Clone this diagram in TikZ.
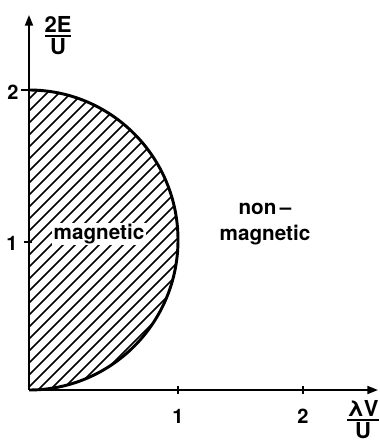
\documentclass[tikz,border=0pt]{standalone}
\usepackage{amsmath}
\usepackage{fontspec}
\setmainfont{TeX Gyre Heros}
\usetikzlibrary{arrows.meta}
\tikzstyle{axis} = [-{Triangle[length=8pt,width=6pt]},line width=1.4pt]
\tikzstyle{tick} = [line width=1.2pt]
\tikzstyle{hatch} = [line width=1.1pt]
\tikzstyle{lab} = [font=\fontsize{15}{17}\selectfont\bfseries,inner sep=1pt]
\tikzstyle{frlab} = [font=\fontsize{16.5}{18}\selectfont\bfseries,inner sep=1pt]
\tikzstyle{region} = [font=\fontsize{15.5}{19}\selectfont\bfseries,inner sep=1pt,align=center]

\begin{document}
\begin{tikzpicture}[x=0.75pt,y=-0.75pt]
      \useasboundingbox (0,0) rectangle (379,442);
      \coordinate (O) at (29,390);
      \coordinate (ytop) at (29,15);
      \coordinate (xend) at (378,390);
      % hatched half disc
      \begin{scope}
        \clip(29,90) arc[start angle=-90,end angle=90,x radius=149,y radius=150] -- cycle;
        \foreach \a in {-300,-288,...,190}
          \draw[hatch](\a,392)--++(302,-302);
      \end{scope}
      \draw[line width=2.2pt](29,90) arc[start angle=-90,end angle=90,x radius=149,y radius=150];
      \draw[axis](O)--(ytop);
      \draw[axis](O)--(xend);
      \draw[tick](21,90)--(29,90)(24,242)--(32,242)(178,386)--(178,394)(303,386)--(303,394);
      \node[lab,anchor=east] (y2) at (20,92) {2};
      \node[lab,anchor=east] (y1) at (19,243) {1};
      \node[lab] (x1) at (178,416) {1};
      \node[lab] (x2) at (303,416) {2};
      \node[frlab] (ylab) at (58,36) {$\genfrac{}{}{1.3pt}{}{\mbox{2E}}{\mbox{U}}$};
      \node[frlab] (xlab) at (363,420) {$\genfrac{}{}{1.3pt}{}{\mbox{λV}}{\mbox{U}}$};
      \node[region,fill=white] (mag) at (99,234) {magnetic};
      \node[region] (nonmag) at (265,224) {non\,–\\magnetic};
    \end{tikzpicture}
\end{document}
